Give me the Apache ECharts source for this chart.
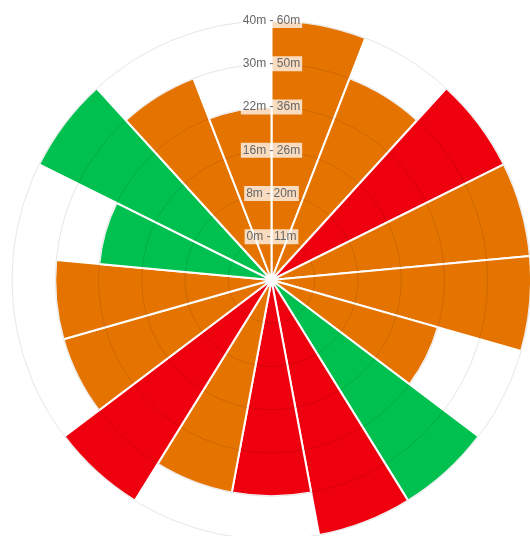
<!DOCTYPE html>
<html>
<head>
<meta charset="utf-8">
<script src="https://cdn.jsdelivr.net/npm/echarts@6/dist/echarts.min.js"></script>
<style>
html,body{margin:0;padding:0;background:#fff;}
#chart{width:530px;height:536px;}
</style>
</head>
<body>
<div id="chart"></div>
<script>
// Sector categories (clockwise from top)
var sectors = ['S1','S2','S3','S4','S5','S6','S7','S8','S9','S10','S11','S12','S13','S14','S15','S16','S17'];
// Radial level reached by each sector
var levels = [6,5,6,6,6,4,6,6,5,5,6,5,5,4,6,5,4];
// Status of each sector
var sectorStatus = ['amber','amber','red','amber','amber','amber','green','red','red','amber','red','amber','amber','green','green','amber','amber'];
// Radial tick labels (levels 1..6)
var tickLabels = ['0m - 11m','8m - 20m','16m - 26m','22m - 36m','30m - 50m','40m - 60m'];

var statusColor = {amber:'#e57300', red:'#ee000f', green:'#00c04f'};

var chart = echarts.init(document.getElementById('chart'), null, {renderer:'canvas'});
chart.setOption({
  animation:false,
  backgroundColor:'#fff',
  polar:{center:[271.5,280], radius:259.5},
  angleAxis:{
    type:'category',
    data:sectors,
    startAngle:90,
    clockwise:true,
    boundaryGap:true,
    axisLine:{show:false},
    axisTick:{show:false},
    axisLabel:{show:false},
    splitLine:{show:false}
  },
  radiusAxis:{
    type:'value',
    min:0,
    max:6,
    interval:1,
    z:10,
    axisLine:{show:false},
    axisTick:{show:false},
    splitLine:{show:true, lineStyle:{color:'rgba(0,0,0,0.1)', width:1}},
    axisLabel:{
      showMinLabel:false,
      margin:0,
      align:'center',
      verticalAlign:'middle',
      color:'#666',
      fontSize:12,
      fontFamily:'"Liberation Sans", Arial, sans-serif',
      backgroundColor:'rgba(255,255,255,0.75)',
      padding:[2,2,1,2],
      formatter:function(v){ return tickLabels[Math.round(v)-1] || ''; }
    }
  },
  series:[{
    type:'bar',
    coordinateSystem:'polar',
    barCategoryGap:'0%',
    data:levels.map(function(v,i){
      return {value:v, itemStyle:{color:statusColor[sectorStatus[i]]}};
    }),
    itemStyle:{
      borderColor:'#fff',
      borderWidth:2
    }
  }]
});
</script>
</body>
</html>
